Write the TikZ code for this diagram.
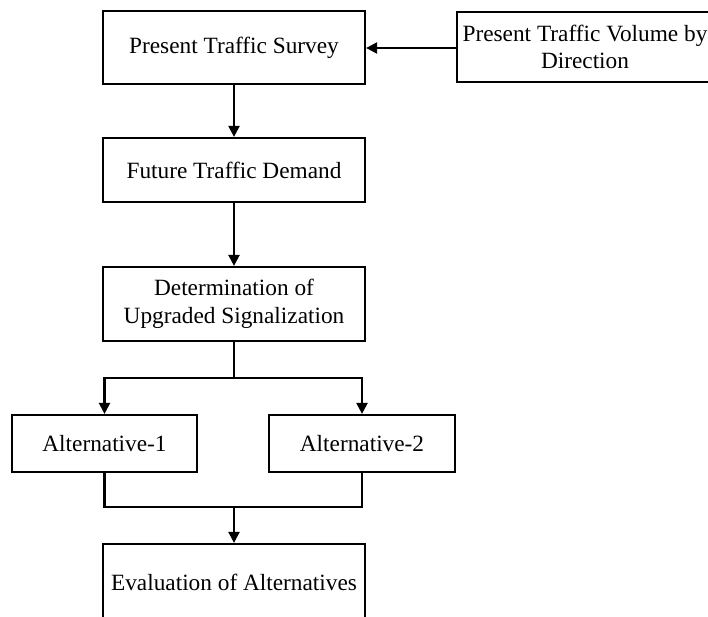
\documentclass[tikz,border=0pt]{standalone}
\usepackage{fontspec}
\setmainfont{Liberation Serif}
\usetikzlibrary{arrows.meta}
\begin{document}
\begin{tikzpicture}[x=1pt,y=1pt,
  box/.style={draw=black,line width=2.2pt,rectangle,inner sep=0pt,align=center,
    font=\fontsize{23.3}{27.5}\selectfont},
  conn/.style={draw=black,line width=2.2pt},
  arr/.style={conn,-{Triangle[length=11pt,width=11pt]}}]
\useasboundingbox (0,0) rectangle (708,-616);
\begin{scope}
\clip (0,0) rectangle (708,-616);
\node[box,minimum width=262pt,minimum height=73pt] (b1) at (234,-47.5) {Present Traffic Survey};
\node[box,minimum width=256pt,minimum height=70pt] (b2) at (585,-47) {Present Traffic Volume by\\Direction};
\node[box,minimum width=262pt,minimum height=64pt] (b3) at (234,-170) {Future Traffic Demand};
\node[box,minimum width=262pt,minimum height=74pt] (b4) at (234,-304) {Determination of\\Upgraded Signalization};
\node[box,minimum width=185pt,minimum height=57pt] (b5) at (104.5,-443.5) {Alternative-1};
\node[box,minimum width=186pt,minimum height=57pt] (b6) at (362,-443.5) {Alternative-2};
\node[box,minimum width=262pt,minimum height=76pt] (b7) at (234,-582) {Evaluation of Alternatives};
\coordinate (split) at (234,-378);
\coordinate (join) at (234,-507);
\draw[arr] (b2.west |- 0,-48) -- (b1.east |- 0,-48);
\draw[arr] (b1.south) -- (b3.north);
\draw[arr] (b3.south) -- (b4.north);
\draw[conn] (b4.south) -- (split);
\draw[arr] (split) -| (b5.north);
\draw[arr] (split) -| (b6.north);
\draw[conn] (b5.south) |- (join) -| (b6.south);
\draw[arr] (join) -- (b7.north);
\end{scope}
\end{tikzpicture}
\end{document}
